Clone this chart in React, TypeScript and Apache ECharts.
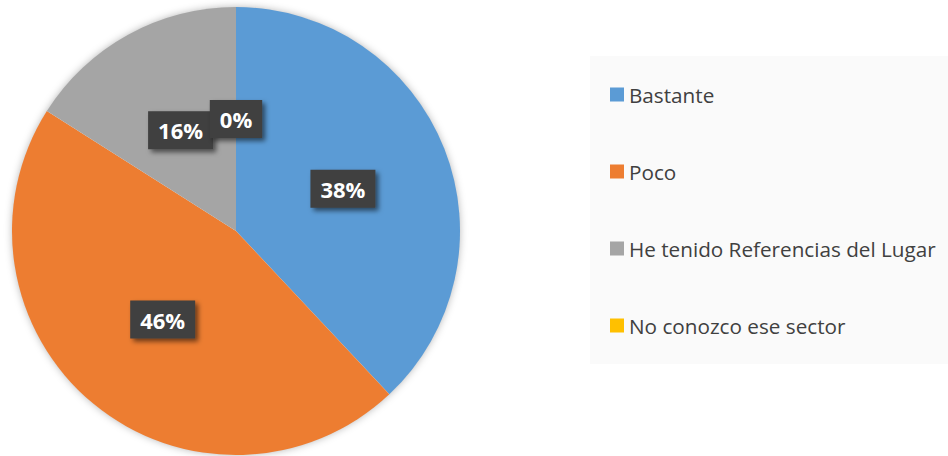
import React, { useEffect, useRef } from "react";
import * as echarts from "echarts";

const categories = ["Bastante", "Poco", "He tenido Referencias del Lugar", "No conozco ese sector"];
const values = [38, 46, 16, 0];
const colors = ["#5B9BD5", "#ED7D31", "#A5A5A5", "#FFC000"];

const CENTER: [number, number] = [236, 231];
const RADIUS = 224;

const labelBox = {
  fontFamily: "Open Sans",
  fontWeight: "bold" as const,
  fontSize: 22,
  backgroundColor: "#3F3F3F",
  padding: [8, 10, 8, 10],
  shadowColor: "rgba(0,0,0,0.55)",
  shadowBlur: 5,
  shadowOffsetX: 3,
  shadowOffsetY: 3,
};

export default function App() {
  const ref = useRef<HTMLDivElement>(null);
  useEffect(() => {
    if (!ref.current) return;
    const chart = echarts.init(ref.current, undefined, { renderer: "svg" });

    // ECharts hides labels of zero-valued slices; place those from the same data/geometry
    const total = values.reduce((a, b) => a + b, 0);
    const zeroLabels: any[] = [];
    let cum = 0;
    values.forEach((v, i) => {
      const mid = (cum + v / 2) / total; // fraction of the circle, clockwise from top
      cum += v;
      if (v === 0) {
        const ang = mid * Math.PI * 2;
        zeroLabels.push({
          type: "text",
          z: 100,
          x: CENTER[0] + (RADIUS / 2) * Math.sin(ang),
          y: CENTER[1] - (RADIUS / 2) * Math.cos(ang),
          style: {
            text: `${v}%`,
            fill: "#ffffff",
            align: "center",
            verticalAlign: "middle",
            ...labelBox,
          },
        });
      }
    });

    chart.setOption({
      animation: false,
      backgroundColor: "#ffffff",
      graphic: [
        {
          type: "rect",
          z: -10,
          shape: { x: 590, y: 56, width: 358, height: 308 },
          style: { fill: "#FAFAFA" },
        },
        ...zeroLabels,
      ],
      legend: {
        orient: "vertical",
        left: 610,
        top: 84,
        padding: 0,
        itemWidth: 14,
        itemHeight: 14,
        itemGap: 56,
        icon: "rect",
        textStyle: {
          fontFamily: "Open Sans",
          fontSize: 20.7,
          lineHeight: 20,
          color: "#404040",
        },
        data: categories,
      },
      series: [
        {
          type: "pie",
          silent: true,
          center: CENTER,
          radius: RADIUS - 1,
          z: 1,
          label: { show: false },
          labelLine: { show: false },
          itemStyle: {
            color: "#ffffff",
            shadowBlur: 8,
            shadowColor: "rgba(0,0,0,0.35)",
          },
          data: [{ value: 1, name: "_bg" }],
          legendHoverLink: false,
          tooltip: { show: false },
        },
        {
          type: "pie",
          center: CENTER,
          radius: RADIUS,
          startAngle: 90,
          clockwise: true,
          z: 2,
          avoidLabelOverlap: false,
          itemStyle: { borderWidth: 0 },
          label: {
            show: true,
            position: "inside",
            formatter: "{c}%",
            color: "#ffffff",
            ...labelBox,
          },
          labelLine: { show: false },
          data: categories.map((name, i) => ({
            name,
            value: values[i],
            itemStyle: { color: colors[i] },
          })),
        },
      ],
    });
    return () => chart.dispose();
  }, []);
  return <div ref={ref} style={{ width: 948, height: 456, position: "absolute", left: 0, top: 0 }} />;
}
